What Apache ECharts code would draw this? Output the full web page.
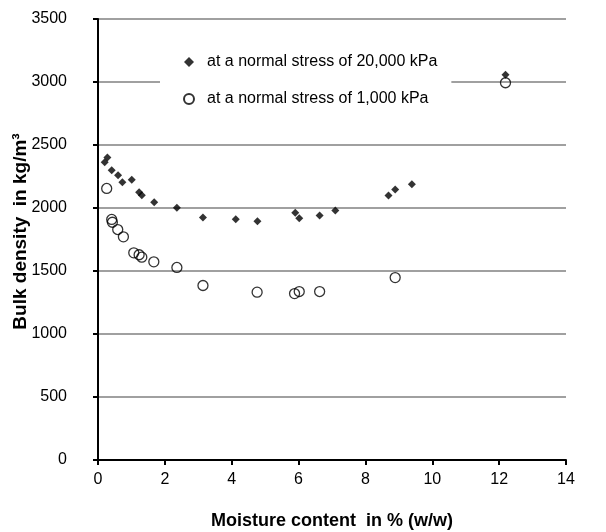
<!DOCTYPE html>
<html>
<head>
<meta charset="utf-8">
<script src="https://cdn.jsdelivr.net/npm/echarts@6/dist/echarts.min.js"></script>
<style>html,body{margin:0;padding:0;background:#fff}#c{width:606px;height:532px}</style>
</head>
<body>
<div id="c"></div>
<script>
const seriesNames = ['at a normal stress of 20,000 kPa', 'at a normal stress of 1,000 kPa'];
const highStressX = [0.28, 0.20, 0.41, 0.60, 0.73, 1.01, 1.23, 1.31, 1.68, 2.36, 3.14, 4.12, 4.77, 5.90, 6.02, 6.63, 7.10, 8.69, 8.89, 9.39, 12.19];
const highStressY = [2400, 2363, 2300, 2260, 2205, 2224, 2125, 2101, 2046, 2002, 1925, 1911, 1895, 1962, 1919, 1940, 1980, 2099, 2147, 2189, 3057];
const lowStressX = [0.26, 0.41, 0.43, 0.59, 0.76, 1.07, 1.23, 1.31, 1.67, 2.36, 3.14, 4.76, 5.88, 6.02, 6.63, 8.89, 12.19];
const lowStressY = [2155, 1909, 1887, 1829, 1771, 1644, 1629, 1610, 1573, 1528, 1385, 1332, 1321, 1337, 1337, 1448, 2994];
const xTitle = 'Moisture content  in % (w/w)';
const yTitle = 'Bulk density  in kg/m³';

const zip = (xs, ys) => xs.map((x, i) => [x, ys[i]]);
const font = '"Liberation Sans", Arial, sans-serif';

const chart = echarts.init(document.getElementById('c'), null, {renderer: 'canvas'});
chart.setOption({
  animation: false,
  backgroundColor: '#fff',
  grid: {left: 98, right: 40, top: 19, bottom: 72, containLabel: false, outerBoundsMode: 'none'},
  legend: {
    orient: 'vertical',
    left: 160,
    top: 46,
    padding: [8, 14, 8, 23],
    backgroundColor: '#fff',
    itemGap: 21,
    itemWidth: 10,
    itemHeight: 10,
    z: 10,
    textStyle: {fontFamily: font, fontSize: 16, color: '#000', padding: [0, 0, 0, 8]},
    data: seriesNames
  },
  xAxis: {
    type: 'value', min: 0, max: 14, interval: 2,
    name: xTitle, nameLocation: 'middle', nameGap: 52, nameMoveOverlap: false,
    nameTextStyle: {fontFamily: font, fontSize: 18, fontWeight: 'bold', color: '#000'},
    axisLine: {show: true, onZero: false, lineStyle: {color: '#000', width: 2}},
    axisTick: {show: true, inside: false, length: 5, lineStyle: {color: '#000', width: 2}},
    axisLabel: {fontFamily: font, fontSize: 16, color: '#000', margin: 12},
    splitLine: {show: false}
  },
  yAxis: {
    type: 'value', min: 0, max: 3500, interval: 500,
    name: yTitle, nameLocation: 'middle', nameGap: 68, nameRotate: 90, nameMoveOverlap: false,
    nameTextStyle: {fontFamily: font, fontSize: 19, fontWeight: 'bold', color: '#000', padding: [0, 0, 0, 16]},
    axisLine: {show: true, onZero: false, lineStyle: {color: '#000', width: 2}},
    axisTick: {show: true, inside: false, length: 5, lineStyle: {color: '#000', width: 2}},
    axisLabel: {fontFamily: font, fontSize: 16, color: '#000', margin: 31, formatter: v => String(v)},
    splitLine: {show: true, lineStyle: {color: '#a0a0a0', width: 1.8}}
  },
  series: [
    {
      name: seriesNames[0], type: 'scatter', symbol: 'diamond', symbolSize: 8,
      itemStyle: {color: '#000'},
      data: zip(highStressX, highStressY), z: 3
    },
    {
      name: seriesNames[1], type: 'scatter', symbol: 'circle', symbolSize: 10,
      itemStyle: {color: 'rgba(255,255,255,0)', borderColor: '#000', borderWidth: 1.3},
      data: zip(lowStressX, lowStressY), z: 2
    }
  ]
});
</script>
</body>
</html>
